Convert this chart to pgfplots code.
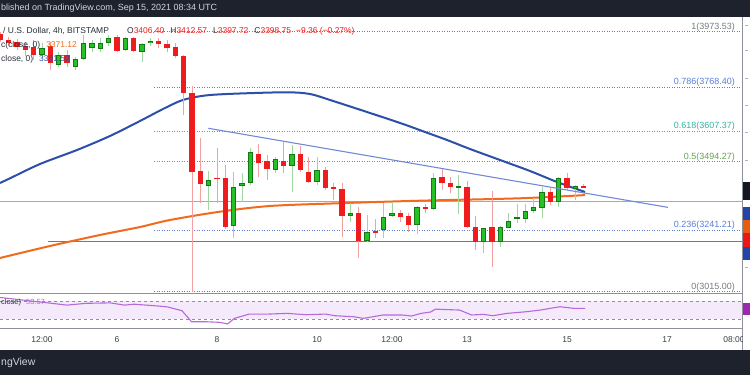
\documentclass[border=0pt]{standalone}
\usepackage{pgfplots}
\pgfplotsset{compat=1.18}
\usepackage{pgfplotstable}
\usepackage{fontspec}
\setmainfont{Liberation Sans}

\definecolor{tvbg}{HTML}{1E222D}
\definecolor{tvtext}{HTML}{D1D4DC}
\definecolor{legtext}{HTML}{2A2E39}
\definecolor{tvred}{HTML}{EE1C1C}
\definecolor{redwick}{HTML}{F4A0A0}
\definecolor{greenfill}{HTML}{26C126}
\definecolor{greenborder}{HTML}{137A13}
\definecolor{greenwick}{HTML}{9ED89E}
\definecolor{maBlue}{HTML}{2C4FA8}
\definecolor{maOrange}{HTML}{F26A1B}
\definecolor{hRed}{HTML}{F28C8C}
\definecolor{hBlue}{HTML}{5B78CF}
\definecolor{trendBlue}{HTML}{7289D6}
\definecolor{fibGray}{HTML}{787B86}
\definecolor{fibBlue}{HTML}{5A7ED6}
\definecolor{fibTeal}{HTML}{33B5A5}
\definecolor{fibGreen}{HTML}{67A055}
\definecolor{paneLine}{HTML}{8E919A}
\definecolor{rsiLine}{HTML}{B66AD8}
\definecolor{rsiBand}{HTML}{F5EAFC}
\definecolor{rsiBox}{HTML}{9C27B0}
\definecolor{timeText}{HTML}{3A3D46}
\definecolor{scaleDark}{HTML}{131722}
\definecolor{scaleBlue}{HTML}{2444A8}
\definecolor{scaleOrange}{HTML}{E85D0C}
\definecolor{scaleRed}{HTML}{F01414}

% 4h candles: t = day of September 2021
\pgfplotstableread{
t o h l c
3.6667 3965 3973 3936 3943
3.8333 3943 3954 3921 3932
4.0 3936 3947 3906 3917
4.1667 3921 3936 3884 3906
4.3333 3918 3943 3869 3888
4.6667 3922 3937 3832 3857
5.0 3888 3906 3845 3857
6.0 3955 3961 3899 3903
6.3333 3949 3955 3900 3903
6.8333 3940 3949 3912 3927
7.0 3928 3943 3900 3912
7.1667 3916 3931 3875 3884
7.3333 3885 3887 3666 3749
7.5 3749 3773 3015 3457
7.6667 3460 3582 3342 3411
8.0 3434 3545 3342 3430
8.1667 3434 3482 3246 3255
8.8333 3523 3560 3438 3488
9.0 3497 3519 3427 3466
9.3333 3498 3567 3453 3478
9.6667 3523 3552 3457 3464
9.8333 3457 3512 3416 3418
10.1667 3464 3476 3390 3396
10.3333 3400 3416 3353 3395
10.5 3394 3416 3216 3295
10.8333 3306 3328 3140 3202
11.1667 3239 3283 3214 3230
11.6667 3306 3316 3273 3291
11.8333 3295 3305 3236 3261
12.1667 3326 3338 3304 3320
12.5 3439 3467 3390 3415
12.6667 3417 3438 3379 3402
13.0 3400 3424 3249 3252
13.1667 3255 3294 3169 3199
13.5 3252 3387 3107 3199
14.6667 3384 3396 3335 3347
15.0 3433 3451 3390 3396
15.3333 3406.40 3412.57 3397.72 3398.75
}\redcandles

\pgfplotstableread{
t o h l c
4.5 3888 3932 3877 3915
4.8333 3851 3900 3845 3888
5.1667 3845 3881 3832 3872
5.3333 3874 3961 3870 3931
5.5 3912 3942 3900 3930
5.6667 3910 3950 3899 3931
5.8333 3931 3961 3922 3951
6.1667 3905 3955 3903 3951
6.5 3900 3931 3863 3927
6.6667 3931 3951 3922 3940
7.8333 3406 3460 3316 3427
8.3333 3257 3457 3213 3402
8.5 3405 3453 3347 3417
8.6667 3417 3545 3408 3530
9.1667 3464 3512 3453 3503
9.5 3480 3556 3384 3523
10.0 3418 3512 3408 3464
10.6667 3295 3342 3273 3306
11.0 3202 3298 3199 3234
11.3333 3242 3342 3212 3291
11.5 3295 3347 3291 3306
12.0 3261 3331 3228 3328
12.3333 3319 3453 3316 3433
12.8333 3398 3445 3301 3405
13.3333 3199 3250 3156 3249
13.6667 3199 3257 3181 3252
13.8333 3249 3304 3249 3277
14.0 3282 3338 3267 3289
14.1667 3283 3338 3267 3314
14.3333 3312 3359 3306 3328
14.5 3322 3402 3286 3384
14.8333 3347 3439 3328 3433
15.1667 3393 3408 3353 3405
}\greencandles

\pgfplotsset{tvpane/.style={hide axis, scale only axis, anchor=south west,
  xmin=3.66, xmax=18.5, clip=true},
  candle/.style={draw=none, no markers, forget plot,
  error bars/.cd, y dir=plus, y explicit, error mark=none,
  error bar style={solid, #1}}}

\begin{document}
\begin{tikzpicture}[x=1bp,y=1bp]
\path[use as bounding box] (0,0) rectangle (750,375);
\fill[white] (0,0) rectangle (750,375);

% ---------------- main price pane ----------------
\begin{axis}[tvpane, at={(0bp,82bp)}, width=742bp, height=276bp,
  ymin=3010.1, ymax=4027.7]
% fibonacci levels
\addplot[fibGray, line width=0.8bp, dash pattern=on 1bp off 1.5bp] coordinates {(6.74,3973.53) (18.46,3973.53)};
\addplot[fibBlue, line width=0.8bp, dash pattern=on 1bp off 1.5bp] coordinates {(6.74,3768.40) (18.46,3768.40)};
\addplot[fibTeal, line width=0.8bp, dash pattern=on 1bp off 1.5bp] coordinates {(6.74,3607.37) (18.46,3607.37)};
\addplot[fibGreen, line width=0.8bp, dash pattern=on 1bp off 1.5bp] coordinates {(6.74,3494.27) (18.46,3494.27)};
\addplot[fibBlue, line width=0.8bp, dash pattern=on 1bp off 1.5bp] coordinates {(6.74,3241.21) (18.46,3241.21)};
\addplot[fibGray, line width=0.8bp, dash pattern=on 1bp off 1.5bp] coordinates {(6.74,3015.00) (18.46,3015.00)};
% horizontal levels
\addplot[hRed, line width=1.3bp] coordinates {(3.66,3346.7) (18.5,3346.7)};
\addplot[hBlue, line width=1.2bp] coordinates {(4.62,3199.2) (18.5,3199.2)};
% moving averages
\addplot[maOrange, line width=2bp, smooth] coordinates {
(3.66,3139.2) (4.66,3183.4) (5.66,3224.0) (6.46,3253.4) (7.06,3279.3)
(8.06,3309.9) (9.06,3330.9) (10.4,3340.8) (12.06,3350.4) (14.06,3359.3) (15.36,3371.1)};
\addplot[maBlue, line width=2bp, smooth] coordinates {
(3.66,3415.7) (3.86,3433.0) (4.46,3485.7) (5.2,3537.3) (5.86,3589.0) (6.46,3644.3)
(6.92,3688.5) (7.26,3718.0) (7.52,3730.9) (7.86,3740.1) (8.46,3745.7) (9.4,3750.1)
(9.86,3743.8) (10.26,3721.7) (11.06,3673.8) (11.72,3633.2) (12.16,3603.7) (12.6,3574.2)
(13.06,3541.0) (13.66,3500.5) (14.26,3459.9) (14.8,3419.4) (15.36,3382.5)};
% wicks
\addplot[candle={draw=redwick, line width=1bp}]
  table[x=t, y=l, y error plus expr=\thisrow{h}-\thisrow{l}] {\redcandles};
\addplot[candle={draw=greenwick, line width=1bp}]
  table[x=t, y=l, y error plus expr=\thisrow{h}-\thisrow{l}] {\greencandles};
% bodies
\addplot[candle={draw=tvred, line width=5.6bp}]
  table[x=t, y=c, y error plus expr=\thisrow{o}-\thisrow{c}] {\redcandles};
\addplot[candle={draw=greenborder, line width=5.6bp}]
  table[x=t, y=o, y error plus expr=\thisrow{c}-\thisrow{o}] {\greencandles};
\addplot[candle={draw=greenfill, line width=3.6bp}]
  table[x=t, y expr=\thisrow{o}+3.7, y error plus expr={max(\thisrow{c}-\thisrow{o}-7.4,0)}] {\greencandles};
% trend line
\addplot[trendBlue, line width=1.1bp] coordinates {(7.826,3617.4) (17.02,3325.7)};
% fib labels
\begin{scope}[font=\fontsize{9}{10}\selectfont, inner sep=0pt]
\node[anchor=base east, text=fibGray, yshift=2.5bp] at (axis cs:18.36,3973.53) {1(3973.53)};
\node[anchor=base east, text=fibBlue, yshift=2.5bp] at (axis cs:18.36,3768.40) {0.786(3768.40)};
\node[anchor=base east, text=fibTeal, yshift=2.5bp] at (axis cs:18.36,3607.37) {0.618(3607.37)};
\node[anchor=base east, text=fibGreen, yshift=2.5bp] at (axis cs:18.36,3494.27) {0.5(3494.27)};
\node[anchor=base east, text=fibBlue, yshift=2.5bp] at (axis cs:18.36,3241.21) {0.236(3241.21)};
\node[anchor=base east, text=fibGray, yshift=2.5bp] at (axis cs:18.36,3015.00) {0(3015.00)};
\end{scope}
\end{axis}

% ---------------- RSI pane ----------------
\begin{axis}[tvpane, at={(0bp,47bp)}, width=742bp, height=35bp, ymin=10, ymax=88]
\addplot[fill=rsiBand, draw=none] coordinates {(3.66,30) (18.5,30) (18.5,70) (3.66,70)} -- cycle;
\addplot[paneLine, line width=0.7bp, dash pattern=on 3bp off 3bp] coordinates {(3.66,70) (18.5,70)};
\addplot[paneLine, line width=0.7bp, dash pattern=on 3bp off 3bp] coordinates {(3.66,30) (18.5,30)};
\addplot[rsiLine, line width=1.1bp] coordinates {
(3.66,78) (4.617,66) (5.0,61) (5.38,65) (5.86,66) (6.15,61) (6.34,63) (6.82,59) (7.01,57)
(7.30,48.5) (7.49,24) (7.77,24) (8.06,22.6) (8.21,19) (8.35,31.5) (8.64,41) (9.02,41)
(9.40,42.6) (9.78,39.6) (10.17,41) (10.36,37.4) (10.74,35) (10.93,31.5) (11.32,39)
(11.70,39) (11.89,36.7) (12.08,42.6) (12.27,45.6) (12.37,52) (12.85,50) (13.09,39)
(13.33,40.4) (13.52,37.4) (13.80,42.6) (14.19,46.3) (14.47,50) (14.66,53.7) (14.86,57.4)
(15.14,53.7) (15.36,53.6)};
\end{axis}

% ---------------- frame, scale, banners ----------------
\draw[paneLine, line width=1bp] (0,82) -- (742,82);
\draw[paneLine, line width=1bp] (0,47) -- (742,47);
\draw[paneLine, line width=1bp] (742,23) -- (742,358);
% right price scale tags
\fill[scaleDark] (742.7,175) rectangle (750,193.3);
\fill[scaleBlue] (742.7,155) rectangle (750,168.3);
\fill[scaleOrange] (742.7,141.7) rectangle (750,155);
\fill[scaleRed] (742.7,128.3) rectangle (750,141.7);
\fill[scaleBlue] (742.7,115) rectangle (750,128.3);
\fill[rsiBox] (742.7,60) rectangle (750,72.3);
\foreach \yy in {350,325,297,270,243,215,108} {\draw[fibGray!60, line width=0.7bp] (745,\yy) -- (748,\yy);}

% time axis labels
\begin{scope}
\clip (0,23) rectangle (742,47);
\begin{scope}[font=\fontsize{8.5}{10}\selectfont, text=timeText]
\node at (42,35) {12:00};
\node at (117,35) {6};
\node at (217,35) {8};
\node at (317,35) {10};
\node at (392,35) {12:00};
\node at (467,35) {13};
\node at (567,35) {15};
\node at (667,35) {17};
\node at (734,35) {08:00};
\end{scope}
\end{scope}

% legend (main pane)
\begin{scope}[font=\fontsize{8.5}{10}\selectfont, inner sep=0pt, text=legtext]
\node[anchor=west] at (3,344) {/ U.S. Dollar, 4h, BITSTAMP};
\node[anchor=west] at (127,344) {O\textcolor{tvred}{3406.40}\hspace{6bp}H\textcolor{tvred}{3412.57}\hspace{6bp}L\textcolor{tvred}{3397.72}\hspace{6bp}C\textcolor{tvred}{3398.75}\hspace{5bp}\textcolor{tvred}{−9.36 (−0.27\%)}};
\node[anchor=west] at (1,330) {c(close, 0)\hspace{6bp}\textcolor{maOrange}{3371.12}};
\node[anchor=west] at (1,316) {close, 0)\hspace{6bp}\textcolor{maBlue}{3381.50}};
\end{scope}
% legend (RSI pane)
\node[anchor=west, inner sep=0pt, font=\fontsize{7.5}{9}\selectfont, text=legtext] at (1,72) {close)\hspace{5bp}\textcolor{rsiLine}{53.57}};

% banners
\fill[tvbg] (0,358) rectangle (750,375);
\node[anchor=west, inner sep=0pt, text=tvtext, font=\fontsize{9}{10}\selectfont] at (1,366.5) {blished on TradingView.com, Sep 15, 2021 08:34 UTC};
\fill[tvbg] (0,0) rectangle (750,25);
\node[anchor=west, inner sep=0pt, text=tvtext, font=\fontsize{10.5}{12}\selectfont] at (1,12.5) {ngView};
\end{tikzpicture}
\end{document}
